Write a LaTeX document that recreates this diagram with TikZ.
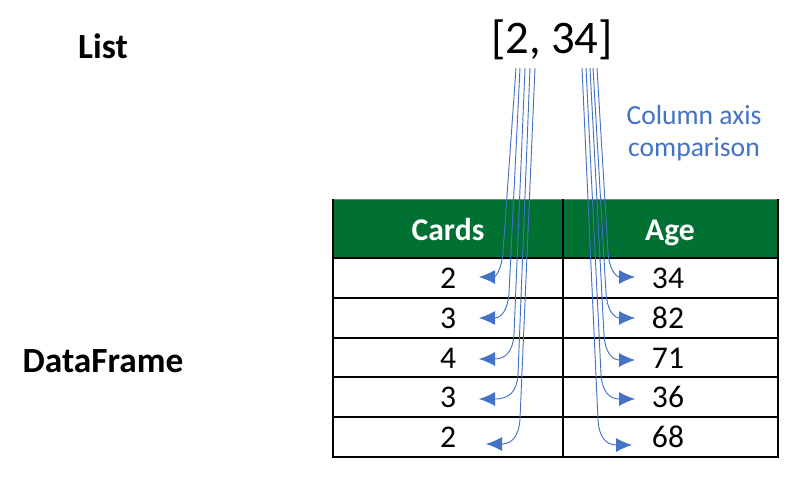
\documentclass[tikz,border=0pt]{standalone}
\usepackage{fontspec}
\setmainfont{Carlito}
\usetikzlibrary{arrows.meta,calc}
\definecolor{xlgreen}{RGB}{0,112,51}
\definecolor{axblue}{RGB}{68,114,196}
\tikzset{hdr/.style={anchor=base, inner sep=0, text=white, font=\fontsize{23.7}{28}\selectfont\bfseries}}
\tikzset{cell/.style={anchor=base, inner sep=0, font=\fontsize{23.7}{28}\selectfont}}
\tikzset{lbl/.style={anchor=base, inner sep=0, font=\fontsize{26.5}{32}\selectfont\bfseries}}
\tikzset{grid/.style={line width=1.9pt}}
\tikzset{cmp/.style={draw=axblue, line width=0.7pt, -{Latex[length=12pt,width=10.5pt]}}}

\begin{document}
\begin{tikzpicture}[x=0.75pt, y=0.75pt]
	\useasboundingbox (0,0) rectangle (798,-489);
	
	\node[lbl] (lbllist) at (103,-58){List};
	\node[lbl] (lbldf) at (103,-372){DataFrame};
	\node[anchor=base, inner sep=0, font=\fontsize{35}{40}\selectfont] (lst) at (552,-53){[2, 34]};
	
	% table
	\fill[xlgreen] (333,-200) rectangle (778,-258);
	\draw[gray, line width=0.8pt] (333,-199.5) -- (778,-199.5);
	\draw[grid] (333,-199) -- (333,-457) -- (778,-457) -- (778,-199);
	\foreach \y in {258,298,338,377,417}
		\draw[grid] (333,-\y) -- (778,-\y);
	\draw[grid] (563,-199) -- (563,-457);
	
	\node[hdr] (hdrc) at (448,-240){Cards};
	\node[hdr] (hdra) at (670,-240){Age};
	
	\foreach \i/\yb/\vc/\va in {1/288/2/34, 2/328/3/82, 3/368/4/71, 4/407/3/36, 5/447/2/68}{
		\node[cell] (c\i) at (448,-\yb){\vc};
		\node[cell] (a\i) at (668,-\yb){\va};
	}
	
	\begin{scope}[axblue]
		\node[anchor=base, inner sep=0, align=center, font=\fontsize{20.7}{23.3}\selectfont] (note) at (694,-156){Column axis\\comparison};
		
		\foreach \i/\xs/\xb/\xt/\yt in {1/516/503/479/277, 2/520/509/479/318, 3/525/514/479/359, 4/530/518/479/399, 5/535/520/486/444}{
			\coordinate (cs\i) at (\xs,-68);
			\coordinate (ct\i) at (\xt,-\yt);
			\draw[cmp] (cs\i) -- (\xb,-\yt+25) .. controls (\xb-1,-\yt+8) and (\xb-8,-\yt) .. (ct\i);
		}
		\foreach \i/\xs/\xb/\xt/\yt in {1/597/608/635/277, 2/593/606/635/318, 3/590/604/635/360, 4/586/601/635/399, 5/582/598/632/445}{
			\coordinate (as\i) at (\xs,-68);
			\coordinate (at\i) at (\xt,-\yt);
			\draw[cmp] (as\i) -- (\xb,-\yt+25) .. controls (\xb+1,-\yt+8) and (\xb+8,-\yt) .. (at\i);
		}
	\end{scope}
\end{tikzpicture}
\end{document}
